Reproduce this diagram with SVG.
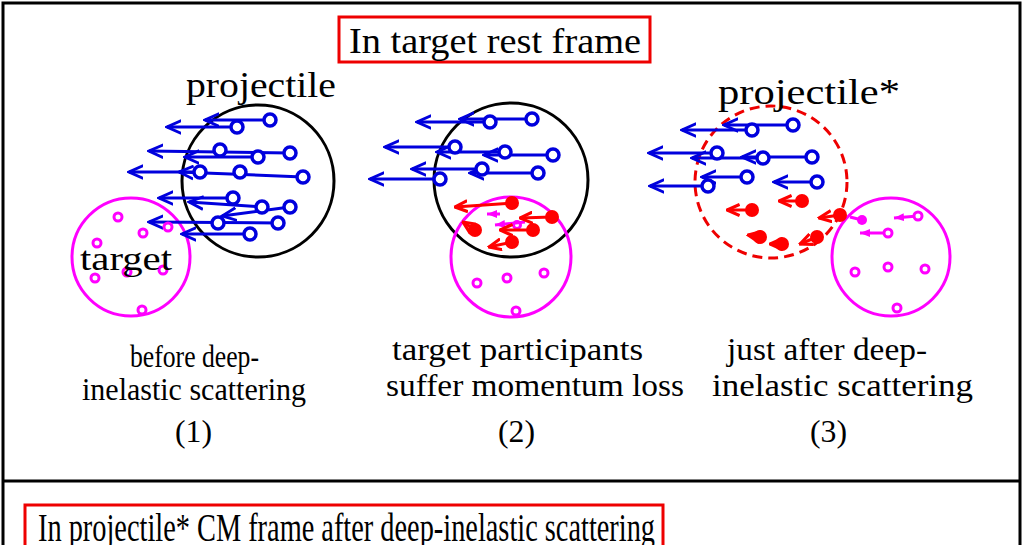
<svg xmlns="http://www.w3.org/2000/svg" width="1024" height="545" viewBox="0 0 1024 545">
<defs>
<marker id="ab" viewBox="0 0 10 10" refX="9" refY="5" markerWidth="16" markerHeight="16" orient="auto" markerUnits="userSpaceOnUse"><path d="M0,1 L9,5 L0,9" fill="none" stroke="#0000dd" stroke-width="1.8"/></marker>
<marker id="ar" viewBox="0 0 10 10" refX="9" refY="5" markerWidth="14" markerHeight="14" orient="auto" markerUnits="userSpaceOnUse"><path d="M0,1 L9,5 L0,9" fill="none" stroke="#ff0000" stroke-width="2.2"/></marker>
<marker id="am" viewBox="0 0 10 10" refX="10" refY="5" markerWidth="10" markerHeight="10" orient="auto" markerUnits="userSpaceOnUse"><path d="M0,1 L10,5 L0,9 z" fill="#ff00ff"/></marker>
</defs>
<style>
text{font-family:"Liberation Serif","Times New Roman","DejaVu Serif",serif;fill:#000}
.big{font-size:36px}
.cap{font-size:31px}
.bl{stroke:#0000dd;stroke-width:3;fill:none}
.bp{stroke:#0000dd;stroke-width:3.5;fill:#fff}
.rl{stroke:#ff0000;stroke-width:3;fill:none}
.rp{fill:#ff0000}
.mp{stroke:#ff00ff;stroke-width:3;fill:#fff}
.ml{stroke:#ff00ff;stroke-width:3;fill:none}
.frame{fill:none;stroke:#000;stroke-width:3}
</style>
<rect x="0" y="0" width="1024" height="545" fill="#fff"/>
<g id="frames">
<path class="frame" d="M3,548 V3 H1020 V548 M3,481 H1020"/>
<rect x="339" y="17" width="311" height="45" fill="none" stroke="#e00" stroke-width="3"/>
<text class="big" x="349" y="53" textLength="292" lengthAdjust="spacingAndGlyphs">In target rest frame</text>
<rect x="25" y="505" width="638" height="50" fill="none" stroke="#e00" stroke-width="3"/>
<text x="38" y="541" font-size="40" textLength="617" lengthAdjust="spacingAndGlyphs">In  projectile* CM frame after deep-inelastic scattering</text>
</g>
<g id="panel1">
<circle cx="131" cy="257" r="59" class="ml"/>
<circle cx="258" cy="181" r="76" fill="none" stroke="#000" stroke-width="3"/>
<g marker-end="url(#ab)" class="bl">
<line x1="270" y1="120" x2="205" y2="120"/>
<line x1="237" y1="127" x2="167" y2="127"/>
<line x1="290" y1="153" x2="149" y2="151"/>
<line x1="258" y1="157" x2="185" y2="157"/>
<line x1="200" y1="172" x2="129" y2="172"/>
<line x1="303" y1="177" x2="179" y2="172"/>
<line x1="233" y1="198" x2="159" y2="198"/>
<line x1="262" y1="207" x2="189" y2="202"/>
<line x1="290" y1="207" x2="222" y2="216"/>
<line x1="278" y1="223" x2="149" y2="222"/>
<line x1="250" y1="234" x2="182" y2="234"/>
</g>
<g class="bp">
<circle cx="270" cy="120" r="6"/><circle cx="237" cy="127" r="6"/><circle cx="290" cy="153" r="6"/><circle cx="258" cy="157" r="6"/><circle cx="220" cy="150" r="6"/><circle cx="200" cy="172" r="6"/><circle cx="240" cy="172" r="6"/><circle cx="303" cy="177" r="6"/><circle cx="233" cy="198" r="6"/><circle cx="262" cy="207" r="6"/><circle cx="290" cy="207" r="6"/><circle cx="218" cy="223" r="6"/><circle cx="278" cy="223" r="6"/><circle cx="250" cy="234" r="6"/>
</g>
<g class="mp">
<circle cx="118" cy="217" r="4"/><circle cx="143" cy="233" r="4"/><circle cx="168" cy="227" r="4"/><circle cx="97" cy="243" r="4"/><circle cx="163" cy="270" r="4"/><circle cx="95" cy="278" r="4"/><circle cx="127" cy="272" r="4"/><circle cx="142" cy="310" r="4"/>
</g>
<text x="80" y="270" font-size="33" textLength="92" lengthAdjust="spacingAndGlyphs">target</text>
<text class="big" x="186" y="97" textLength="150" lengthAdjust="spacingAndGlyphs">projectile</text>
<text class="cap" x="130" y="367" textLength="129" lengthAdjust="spacingAndGlyphs">before deep-</text>
<text class="cap" x="82" y="400" textLength="224" lengthAdjust="spacingAndGlyphs">inelastic scattering</text>
<text class="cap" x="175" y="442" textLength="37" lengthAdjust="spacingAndGlyphs">(1)</text>
</g>
<g id="panel2">
<circle cx="511" cy="180" r="77" fill="none" stroke="#000" stroke-width="3"/>
<circle cx="511" cy="257" r="60" class="ml"/>
<g marker-end="url(#ab)" class="bl">
<line x1="532" y1="119" x2="460" y2="119"/>
<line x1="490" y1="122" x2="417" y2="122"/>
<line x1="553" y1="155" x2="484" y2="155"/>
<line x1="505" y1="152" x2="437" y2="152"/>
<line x1="455" y1="147" x2="385" y2="147"/>
<line x1="538" y1="173" x2="470" y2="173"/>
<line x1="482" y1="169" x2="412" y2="169"/>
<line x1="440" y1="179" x2="370" y2="179"/>
</g>
<g class="bp">
<circle cx="532" cy="119" r="6"/><circle cx="490" cy="122" r="6"/><circle cx="553" cy="155" r="6"/><circle cx="505" cy="152" r="6"/><circle cx="455" cy="147" r="6"/><circle cx="538" cy="173" r="6"/><circle cx="482" cy="169" r="6"/><circle cx="440" cy="179" r="6"/>
</g>
<g class="mp">
<circle cx="517" cy="225" r="3.5"/><circle cx="477" cy="283" r="4"/><circle cx="507" cy="278" r="4"/><circle cx="544" cy="273" r="4"/><circle cx="516" cy="311" r="4"/>
</g>
<g marker-end="url(#am)" class="ml"><line x1="500" y1="214" x2="487" y2="214"/><line x1="525" y1="222" x2="495" y2="225"/></g>
<g marker-end="url(#ar)" class="rl">
<line x1="512" y1="203" x2="455" y2="207"/>
<line x1="552" y1="217" x2="520" y2="218"/>
<line x1="533" y1="230" x2="500" y2="230"/>
<line x1="512" y1="242" x2="489" y2="247"/>
<line x1="475" y1="230" x2="463" y2="222"/>
</g>
<g class="rp">
<circle cx="512" cy="203" r="7"/><circle cx="552" cy="217" r="7"/><circle cx="533" cy="230" r="7"/><circle cx="512" cy="242" r="7"/><circle cx="475" cy="230" r="7"/>
</g>
<text class="cap" x="392" y="360" textLength="251" lengthAdjust="spacingAndGlyphs">target participants</text>
<text class="cap" x="386" y="396" textLength="298" lengthAdjust="spacingAndGlyphs">suffer momentum loss</text>
<text class="cap" x="498" y="442" textLength="37" lengthAdjust="spacingAndGlyphs">(2)</text>
</g>
<g id="panel3">
<circle cx="771" cy="182" r="76" fill="none" stroke="#ee0000" stroke-width="3" stroke-dasharray="10,6"/>
<circle cx="891" cy="257" r="59" class="ml"/>
<g marker-end="url(#ab)" class="bl">
<line x1="793" y1="125" x2="724" y2="125"/>
<line x1="752" y1="130" x2="682" y2="130"/>
<line x1="812" y1="157" x2="742" y2="157"/>
<line x1="763" y1="158" x2="692" y2="158"/>
<line x1="717" y1="153" x2="649" y2="153"/>
<line x1="747" y1="177" x2="702" y2="177"/>
<line x1="708" y1="186" x2="650" y2="186"/>
<line x1="817" y1="182" x2="774" y2="182"/>
</g>
<g class="bp">
<circle cx="793" cy="125" r="6"/><circle cx="752" cy="130" r="6"/><circle cx="812" cy="157" r="6"/><circle cx="763" cy="158" r="6"/><circle cx="717" cy="153" r="6"/><circle cx="747" cy="177" r="6"/><circle cx="708" cy="186" r="6"/><circle cx="817" cy="182" r="6"/>
</g>
<g marker-end="url(#ar)" class="rl">
<line x1="802" y1="201" x2="779" y2="201"/>
<line x1="752" y1="210" x2="727" y2="210"/>
<line x1="760" y1="237" x2="748" y2="235"/>
<line x1="782" y1="244" x2="770" y2="244"/>
<line x1="817" y1="237" x2="800" y2="244"/>
<line x1="840" y1="215" x2="819" y2="218"/>
</g>
<g class="rp">
<circle cx="802" cy="201" r="7"/><circle cx="752" cy="210" r="7"/><circle cx="760" cy="237" r="7"/><circle cx="782" cy="244" r="7"/><circle cx="817" cy="237" r="7"/><circle cx="840" cy="215" r="7"/>
</g>
<g marker-end="url(#am)" class="ml">
<line x1="918" y1="216" x2="894" y2="218"/>
<line x1="888" y1="233" x2="860" y2="233"/>
</g>
<circle cx="862" cy="220" r="5" fill="#ff00ff"/>
<path d="M862,220 L850,217" class="ml"/>
<g class="mp">
<circle cx="918" cy="216" r="4"/><circle cx="888" cy="233" r="4"/><circle cx="855" cy="272" r="4"/><circle cx="888" cy="267" r="4"/><circle cx="925" cy="269" r="4"/><circle cx="897" cy="308" r="4"/>
</g>
<text class="big" x="718" y="104" textLength="182" lengthAdjust="spacingAndGlyphs">projectile*</text>
<text class="cap" x="727" y="360" textLength="200" lengthAdjust="spacingAndGlyphs">just after deep-</text>
<text class="cap" x="712" y="396" textLength="261" lengthAdjust="spacingAndGlyphs">inelastic scattering</text>
<text class="cap" x="810" y="442" textLength="37" lengthAdjust="spacingAndGlyphs">(3)</text>
</g>
</svg>
